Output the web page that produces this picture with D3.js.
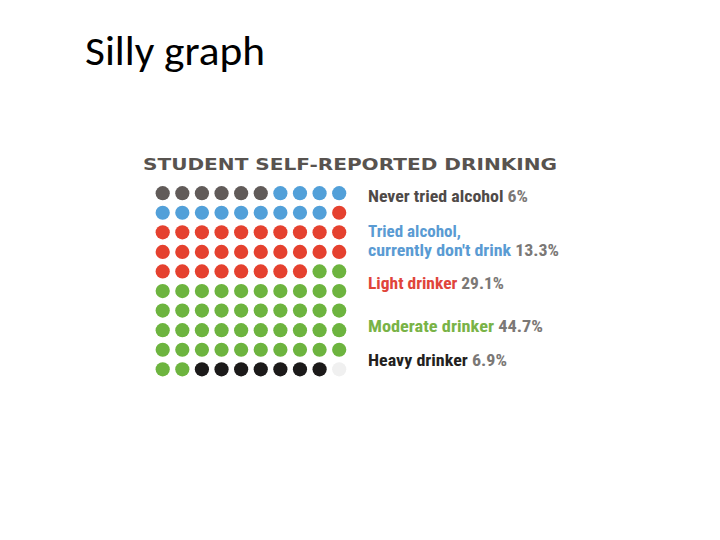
<!DOCTYPE html>
<html>
<head>
  <script src="https://d3js.org/d3.v7.min.js"></script>
  <style>
  body { margin: 0; background: #fff; }
  </style>
</head>
<body>
  <script>
  var w = 720;
  var h = 540;

  //Categories, shares and the number of dots each one fills
  var categories = ["Never tried alcohol", "Tried alcohol,|currently don't drink", "Light drinker", "Moderate drinker", "Heavy drinker"];
  var shares = ["6%", "13.3%", "29.1%", "44.7%", "6.9%"];
  var dotCounts = [6, 13, 29, 44, 7];
  var dotColors = ["#615b59", "#52a0d9", "#e5412f", "#6db43f", "#1c1a1a"];
  var labelColors = ["#4f4a48", "#5a9bd3", "#e0443a", "#79b347", "#231f20"];
  var emptyColor = "#f0f0f0";
  var gridSize = 10;

  var svg = d3.select("body")
    .append("svg")
    .attr("width", w)
    .attr("height", h);

  //Slide title
  svg.append("text")
    .attr("x", 85)
    .attr("y", 65)
    .attr("textLength", 180)
    .attr("lengthAdjust", "spacingAndGlyphs")
    .style("font-family", "Carlito, Lato, 'Open Sans', sans-serif")
    .style("font-size", "40px")
    .style("fill", "#000")
    .text("Silly graph");

  //Chart heading
  svg.append("text")
    .attr("x", 143)
    .attr("y", 170)
    .attr("textLength", 414)
    .attr("lengthAdjust", "spacingAndGlyphs")
    .style("font-family", "'DejaVu Sans', sans-serif")
    .style("font-weight", "bold")
    .style("font-size", "16.5px")
    .style("fill", "#58534f")
    .text("STUDENT SELF-REPORTED DRINKING");

  //Build one entry per dot, filled row by row
  var dots = [];
  dotCounts.forEach(function(n, i){
    for(var j = 0; j < n; j++){
      dots.push({cat: i});
    }
  });
  while(dots.length < gridSize * gridSize){
    dots.push({cat: -1});
  }

  var x = d3.scaleLinear().domain([0, gridSize - 1]).range([162.7, 339.2]);
  var y = d3.scaleLinear().domain([0, gridSize - 1]).range([193.2, 369.3]);

  svg.append("g")
    .selectAll("circle")
    .data(dots)
    .enter()
    .append("circle")
      .attr("cx", function(d, i){ return x(i % gridSize); })
      .attr("cy", function(d, i){ return y(Math.floor(i / gridSize)); })
      .attr("r", 7.1)
      .attr("fill", function(d){
        return d.cat < 0 ? emptyColor : dotColors[d.cat];
      });

  //Legend labels on the right, each line stretched to the printed width
  var labelY = [202, 237, 289, 331.5, 365.5];
  var lineWidths = [[160], [93, 191], [136], [175], [139]];
  var lineGap = 18.5;

  var legend = svg.append("g")
    .style("font-family", "'Liberation Sans Narrow', 'Roboto Condensed', Roboto, sans-serif")
    .style("font-weight", "bold")
    .style("font-size", "16px");

  categories.forEach(function(c, i){
    var lines = c.split("|");
    lines.forEach(function(line, k){
      var t = legend.append("text")
        .attr("x", 368)
        .attr("y", labelY[i] + k * lineGap)
        .attr("textLength", lineWidths[i][k])
        .attr("lengthAdjust", "spacingAndGlyphs");
      t.append("tspan")
        .style("fill", labelColors[i])
        .text(line);
      if(k == lines.length - 1){
        t.append("tspan")
          .style("fill", "#7b7876")
          .text(" " + shares[i]);
      }
    });
  });
  </script>
</body>
</html>
